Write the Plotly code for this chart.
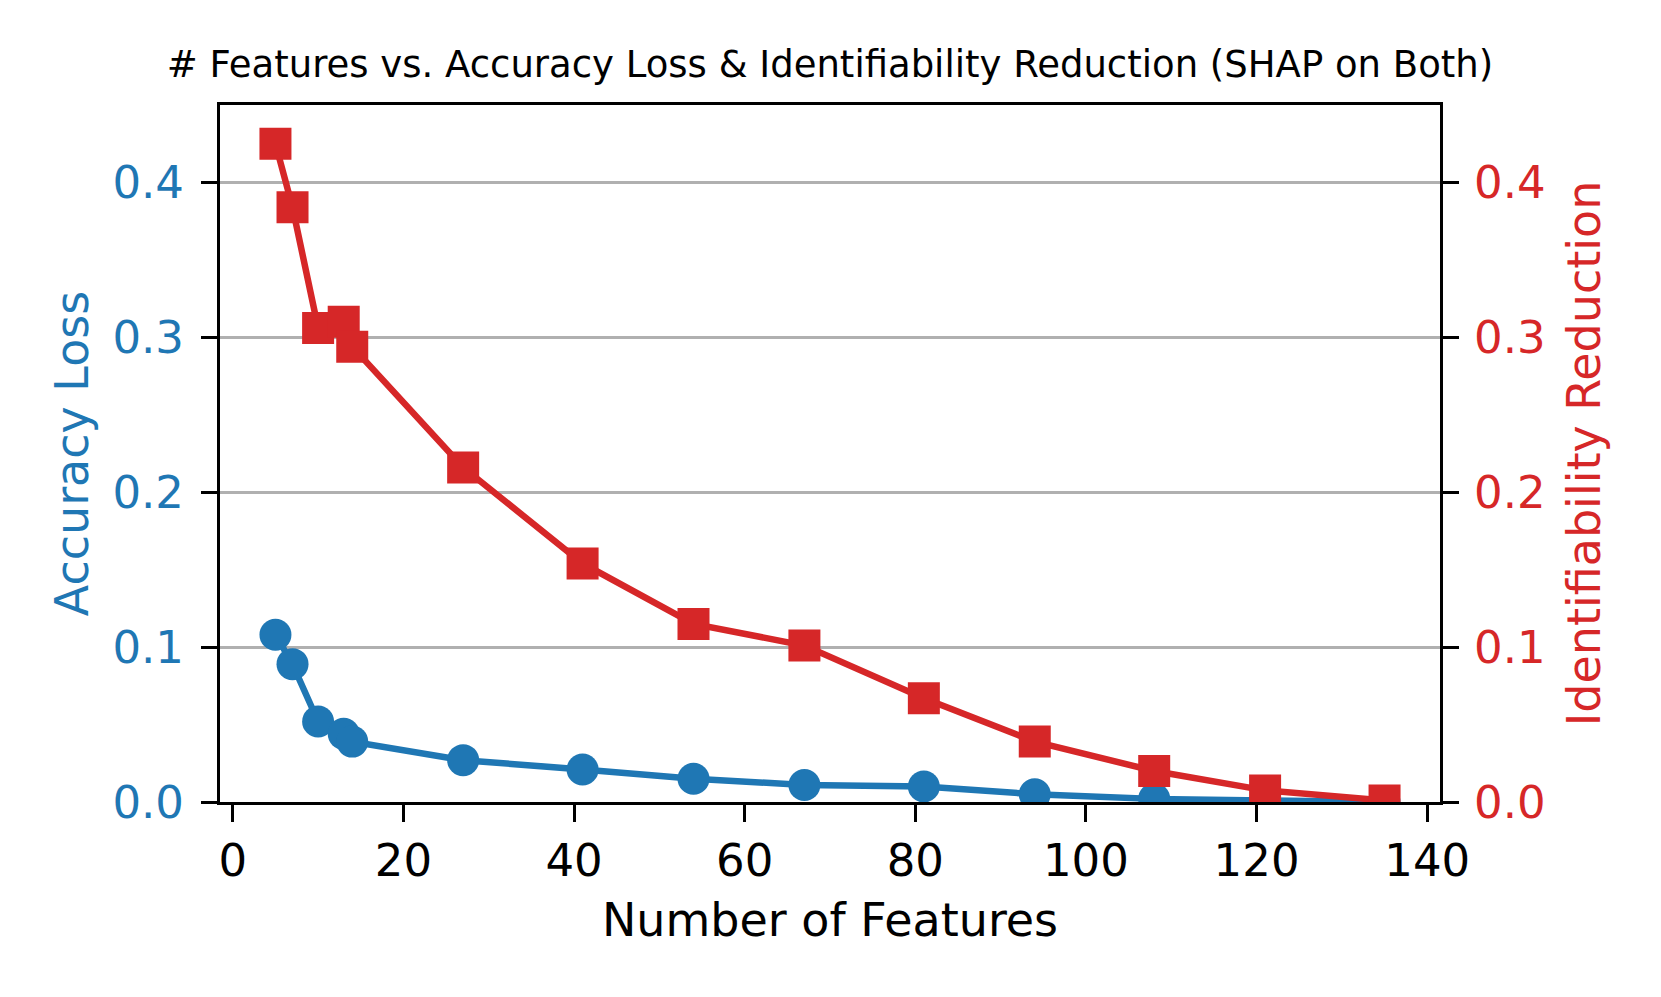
import plotly.graph_objects as go

num_features = [5, 7, 10, 13, 14, 27, 41, 54, 67, 81, 94, 108, 121, 135]
accuracy_loss = [0.108, 0.089, 0.052, 0.044, 0.039, 0.027, 0.021, 0.015, 0.011, 0.010, 0.005, 0.002, 0.001, 0.0]
ident_reduction = [0.425, 0.384, 0.306, 0.310, 0.294, 0.216, 0.154, 0.115, 0.101, 0.067, 0.039, 0.020, 0.0075, 0.001]

x_ticks = [0, 20, 40, 60, 80, 100, 120, 140]
y_ticks = [0.0, 0.1, 0.2, 0.3, 0.4]

BLUE = "#1f77b4"
RED = "#d62728"
FONT = "DejaVu Sans"

fig = go.Figure()
fig.add_trace(go.Scatter(
    x=num_features, y=accuracy_loss, mode="lines+markers", name="Accuracy Loss",
    line=dict(color=BLUE, width=6.5),
    marker=dict(symbol="circle", size=32, color=BLUE),
    yaxis="y",
))
fig.add_trace(go.Scatter(
    x=num_features, y=ident_reduction, mode="lines+markers", name="Identifiability Reduction",
    line=dict(color=RED, width=6.5),
    marker=dict(symbol="square", size=32, color=RED),
    yaxis="y2",
))

fig.update_layout(
    width=1661, height=997,
    margin=dict(l=212, r=229, t=97, b=203),
    paper_bgcolor="white", plot_bgcolor="white",
    showlegend=False,
    font=dict(family=FONT, color="black"),
    title=dict(
        text="# Features vs. Accuracy Loss & Identifiability Reduction (SHAP on Both)",
        x=0.5, xanchor="center", xref="paper",
        y=1 - 56 / 997, yref="container", yanchor="middle",
        font=dict(size=37, family=FONT, color="black"),
    ),
    xaxis=dict(
        range=[-1.5, 141.5], tickvals=x_ticks, ticktext=[str(v) for v in x_ticks],
        showgrid=False, zeroline=False,
        showline=True, linecolor="black", linewidth=3, mirror=True,
        ticks="outside", ticklen=17, tickwidth=3, tickcolor="black",
        tickfont=dict(size=45, color="black"), ticklabelstandoff=0,
        title=dict(text="Number of Features", font=dict(size=46, color="black"), standoff=18),
    ),
    yaxis=dict(
        range=[0, 0.45], tickvals=y_ticks, ticktext=[f"{v:.1f}" for v in y_ticks],
        showgrid=True, gridcolor="#b0b0b0", gridwidth=3, zeroline=False,
        showline=True, linecolor="black", linewidth=3,
        ticks="outside", ticklen=16, tickwidth=3, tickcolor="black",
        tickfont=dict(size=45, color=BLUE), ticklabelstandoff=8,
        title=dict(text="Accuracy Loss", font=dict(size=46, color=BLUE), standoff=10),
    ),
    yaxis2=dict(
        range=[0, 0.45], tickvals=y_ticks, ticktext=[f"{v:.1f}" for v in y_ticks],
        overlaying="y", side="right",
        showgrid=False, zeroline=False,
        showline=True, linecolor="black", linewidth=3,
        ticks="outside", ticklen=16, tickwidth=3, tickcolor="black",
        tickfont=dict(size=45, color=RED), ticklabelstandoff=6,
        title=dict(text="Identifiability Reduction", font=dict(size=46, color=RED), standoff=24),
    ),
)

fig.write_html("out.html")
